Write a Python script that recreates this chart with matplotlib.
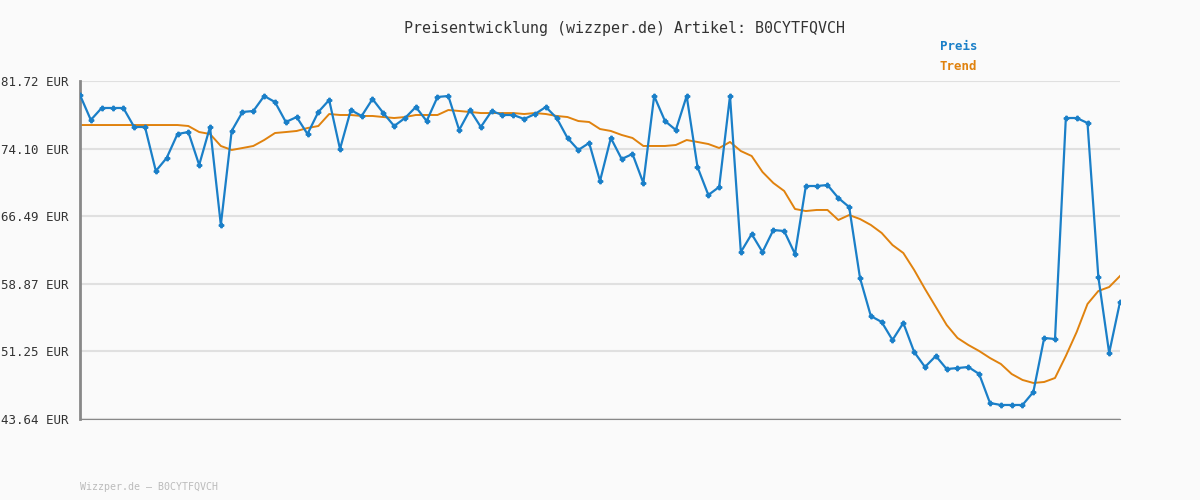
import matplotlib
matplotlib.use("Agg")
import matplotlib.pyplot as plt
import numpy as np

preis = [80.14,77.33,78.68,78.68,78.68,76.54,76.54,71.58,73.05,75.75,
75.97,72.26,76.54,65.50,76.09,78.23,78.34,80.03,79.35,77.10,
77.66,75.75,78.23,79.58,74.06,78.45,77.78,79.69,78.11,76.65,
77.55,78.79,77.21,79.92,80.03,76.20,78.45,76.54,78.34,77.89,
77.89,77.44,78.00,78.79,77.55,75.30,73.95,74.74,70.45,75.30,
72.93,73.50,70.23,80.03,77.21,76.20,80.03,72.03,68.88,69.78,
80.03,62.45,64.48,62.45,64.93,64.82,62.23,69.89,69.89,70.00,
68.54,67.52,59.53,55.24,54.57,52.54,54.46,51.19,49.50,50.74,
49.27,49.38,49.50,48.71,45.44,45.22,45.22,45.22,46.68,52.77,
52.65,77.55,77.55,76.99,59.64,51.08,56.82]
trend = [76.76]*10 + [76.65,75.97,75.75,74.40,73.95,74.17,74.40,75.07,75.86,75.97,
76.09,76.42,76.65,78.00,77.89,77.89,77.78,77.78,77.66,77.55,
77.66,77.89,77.89,77.89,78.45,78.34,78.23,78.11,78.11,78.11,
78.11,78.00,78.11,78.00,77.78,77.66,77.21,77.10,76.31,76.09,
75.64,75.30,74.40,74.40,74.40,74.51,75.07,74.85,74.62,74.17,
74.85,73.83,73.27,71.47,70.23,69.33,67.30,67.07,67.19,67.19,
66.06,66.62,66.17,65.50,64.60,63.24,62.34,60.43,58.29,56.26,
54.23,52.77,51.98,51.30,50.51,49.84,48.71,48.04,47.70,47.81,
48.26,50.74,53.44,56.60,58.06,58.51,59.75]
yticks = [43.64, 51.25, 58.87, 66.49, 74.10, 81.72]
title = "Preisentwicklung (wizzper.de) Artikel: B0CYTFQVCH"
footer = "Wizzper.de – B0CYTFQVCH"

plt.rcParams['font.family'] = ['DejaVu Sans Mono']
bg = '#fafafa'
fig = plt.figure(figsize=(12, 5), dpi=100, facecolor=bg)
ax = fig.add_axes([80/1200, 1-419/500, 1040/1200, 338/500], facecolor=bg)
x = np.arange(len(preis))
ax.plot(x, trend, color='#e0820e', lw=1.4, zorder=2)
ax.plot(x, preis, color='#1a7fc8', lw=1.6, marker='P', ms=3.2, zorder=3)
ax.set_xlim(0, len(preis)-1)
ax.set_ylim(yticks[0], yticks[-1])
ax.set_yticks(yticks)
ax.set_yticklabels([f"{v:.2f} EUR" for v in yticks], fontsize=9, color='#333333')
ax.set_xticks([])
ax.grid(axis='y', color='#e0e0e0', lw=1.5)
ax.set_axisbelow(True)
for s in ['top', 'right']:
    ax.spines[s].set_visible(False)
ax.spines['left'].set_color('#888888'); ax.spines['left'].set_linewidth(2)
ax.spines['bottom'].set_color('#888888')
ax.tick_params(axis='y', length=0, pad=8)
fig.text(0.52, 1-28/500, title, ha='center', va='center', fontsize=10.8, color='#333333')
fig.text(940/1200, 1-47/500, "Preis", ha='left', va='center', fontsize=9, color='#1a7fc8', weight='bold')
fig.text(940/1200, 1-67/500, "Trend", ha='left', va='center', fontsize=9, color='#e0820e', weight='bold')
fig.text(80/1200, 1-487/500, footer, ha='left', va='center', fontsize=7.2, color='#bbbbbb')
fig.savefig("out.png", dpi=100, facecolor=bg)
